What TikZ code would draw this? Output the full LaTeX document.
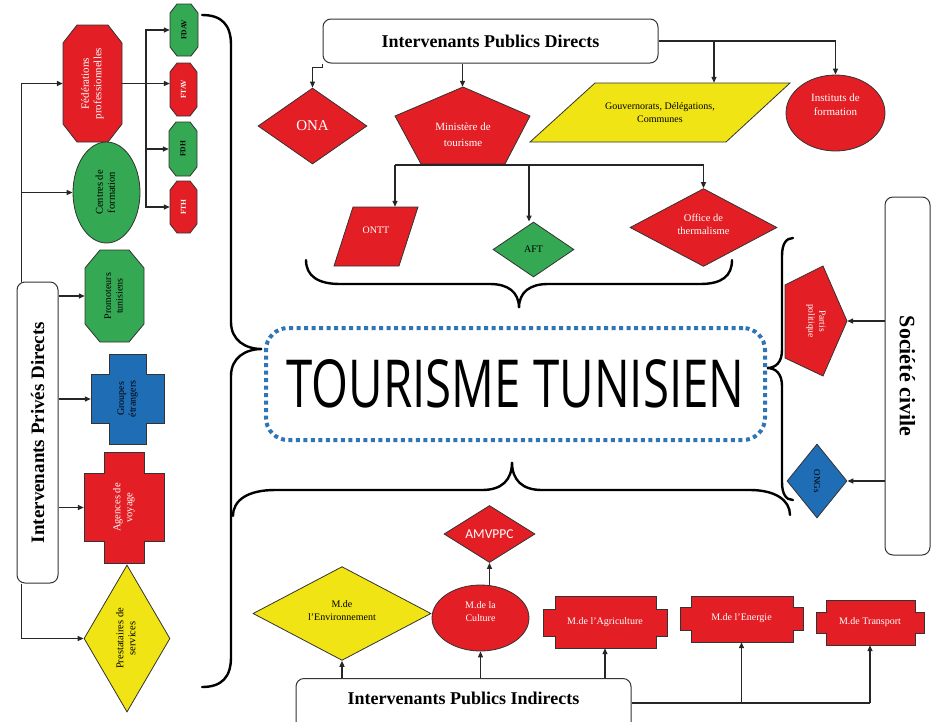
\documentclass[tikz,border=0pt]{standalone}
\usepackage{fontspec}
\usepackage{graphicx}
\setmainfont{Liberation Serif}
\newfontfamily\titlefont{Open Sans}
\newfontfamily\amvfont{Carlito}
\usetikzlibrary{shapes.geometric,arrows.meta,calc}
\definecolor{cred}{HTML}{E31E24}
\definecolor{cgreen}{HTML}{34A853}
\definecolor{cyellow}{HTML}{F0E414}
\definecolor{cblue}{HTML}{1F6DB4}
\definecolor{ctitle}{HTML}{2E75B6}
\definecolor{cedge}{HTML}{333333}
\newcommand{\fsz}[2]{\fontsize{#1}{#2}\selectfont}
\newcommand{\myrot}[2]{\rotatebox{#1}{\begin{tabular}{@{}c@{}}#2\end{tabular}}}
\newcommand{\liftup}[2]{\raisebox{#1}[\height][\depth]{\begin{tabular}{@{}c@{}}#2\end{tabular}}}
\begin{document}
\begin{tikzpicture}[x=1pt,y=-1pt,
  edge/.style={draw=cedge, line width=0.8pt},
  sz/.style 2 args={minimum width=#1pt, minimum height=#2pt},
  txt/.style={inner sep=0pt, align=center},
  rbox/.style={draw=cedge, line width=1pt, rounded corners=8pt, fill=white, inner sep=0pt},
  conn/.style={draw=black!85, line width=1.3pt},
  arr/.style={conn, -{Triangle[length=6pt,width=5pt]}},
  brace/.style={draw=black, line width=2.4pt, line cap=round},
  dia/.style={diamond, edge, inner sep=0pt, align=center},
  ell/.style={ellipse, edge, inner sep=0pt, align=center},
]
\useasboundingbox (0,0) rectangle (932,721);

% ---------- left column ----------
\draw[edge, fill=cred] (77,25)--(108,25)--(122,43)--(122,124)--(108,142)--(77,142)--(63,124)--(63,43)--cycle;
\node[txt, sz={59}{117}, text=white, font=\fsz{11}{12.5}] (fed) at (92.5,83.5) {\myrot{90}{Fédérations\\professionnelles}};
\node[ell, fill=cgreen, sz={67}{101}, font=\fsz{10.5}{12}] (cen) at (106.5,192.5) {\myrot{90}{Centres de\\formation}};

\draw[edge, fill=cgreen] (177,4)--(191,4)--(198,13)--(198,47)--(191,56)--(177,56)--(170,47)--(170,13)--cycle;
\node[txt, sz={28}{52}, font=\fsz{7.5}{8}\bfseries] (fdav) at (184,30) {\rotatebox{90}{FDAV}};
\draw[edge, fill=cred] (177,63)--(190,63)--(197,72)--(197,107)--(190,116)--(177,116)--(170,107)--(170,72)--cycle;
\node[txt, sz={27}{53}, text=white, font=\fsz{7.5}{8}\bfseries] (ftav) at (183.5,89.5) {\rotatebox{90}{FTAV}};
\draw[edge, fill=cgreen] (176,122)--(190,122)--(197,131)--(197,167)--(190,176)--(176,176)--(169,167)--(169,131)--cycle;
\node[txt, sz={28}{54}, font=\fsz{7.5}{8}\bfseries] (fdh) at (183,149) {\rotatebox{90}{FDH}};
\draw[edge, fill=cred] (177,181)--(190,181)--(197,190)--(197,224)--(190,233)--(177,233)--(170,224)--(170,190)--cycle;
\node[txt, sz={27}{52}, text=white, font=\fsz{7.5}{8}\bfseries] (fth) at (183.5,207) {\rotatebox{90}{FTH}};

\draw[edge, fill=cgreen] (100,250)--(129,250)--(144,268)--(144,324)--(129,342)--(100,342)--(85,324)--(85,268)--cycle;
\node[txt, sz={59}{92}, font=\fsz{10}{11.5}] (pro) at (114.5,296) {\myrot{90}{Promoteurs\\tunisiens}};

\draw[edge, fill=cblue] (109,354)--(146,354)--(146,374)--(164,374)--(164,423)--(146,423)--(146,444)--(109,444)--(109,423)--(91,423)--(91,374)--(109,374)--cycle;
\node[txt, sz={73}{90}, font=\fsz{10}{11.5}] (gro) at (127.5,399) {\myrot{90}{Groupes\\étrangers}};

\draw[edge, fill=cred] (104,452)--(144,452)--(144,473)--(164,473)--(164,541)--(144,541)--(144,563)--(104,563)--(104,541)--(84,541)--(84,473)--(104,473)--cycle;
\node[txt, sz={80}{111}, text=white, font=\fsz{10.5}{12}] (age) at (124,507.5) {\myrot{90}{Agences de\\voyage}};

\node[dia, fill=cyellow, sz={86}{147}, font=\fsz{10.5}{12}] (pre) at (127,638.5) {\myrot{90}{Prestataires de\\services}};

\node[rbox, sz={41}{301}, font=\fsz{19}{22}\bfseries] (ipd) at (37.5,432.5) {\rotatebox{90}{Intervenants Privés Directs}};

\draw[arr] ($(ipd.north west)+(5,0)$) |- (fed.west);
\draw[arr] ($(ipd.north west)+(5,0)$) |- (cen.west);
\draw[arr] (ipd.east |- pro.west) -- (pro.west);
\draw[arr] (ipd.east |- gro.west) -- (gro.west);
\draw[arr] (ipd.east |- age.west) -- (age.west);
\draw[arr] ($(ipd.south west)+(5,0)$) |- (pre.west);

\coordinate (fb) at (146,83.5);
\draw[arr] (fed.east) -- (fed.east -| ftav.west);
\draw[arr] (fb) |- (fdav.west);
\draw[arr] (fb) |- (fdh.west);
\draw[arr] (fb) |- (fth.west);

% left brace
\draw[brace] (202,15) .. controls (222,15) and (231,25) .. (231,45) -- (231,322)
  .. controls (231,340) and (245,349) .. (262,349)
  .. controls (245,349) and (231,358) .. (231,376) -- (231,657)
  .. controls (231,677) and (222,687) .. (202,687);

% ---------- top ----------
\node[rbox, sz={335}{44}, font=\fsz{18}{20}\bfseries] (pd) at (490.5,41) {Intervenants Publics Directs};
\node[dia, fill=cred, sz={109}{76}, text=white, font=\fsz{15}{17}] (ona) at (312.5,126) {ONA};
\draw[arr] (pd.south west) -- ++(0,4) -| (ona.north);

\draw[edge, fill=cred] (463,87)--(530,116)--(505,164)--(421,164)--(395,116)--cycle;
\node[txt, sz={135}{77}] (min) at (462.5,125.5) {};
\node[txt, text=white, font=\fsz{11}{16}] (mint) at (463,135) {Ministère de\\tourisme};
\draw[arr] (pd.south -| min.north) -- (min.north);

\draw[edge, fill=cyellow] (595,83)--(790,83)--(726,142)--(530,142)--cycle;
\node[txt, sz={260}{59}, font=\fsz{10}{13}] (gov) at (660,112.5) {Gouvernorats, Délégations,\\Communes};
\node[ell, fill=cred, sz={99}{76}, text=white, font=\fsz{11}{14}] (inst) at (835.5,113) {\liftup{7pt}{Instituts de\\formation}};
\draw[arr] (pd.east) -| (inst.north);
\coordinate (gk) at (714,41);
\draw[arr] (gk) -- (gk |- gov.north);

\draw[edge, fill=cred] (353,207)--(418,207)--(399,266)--(334,266)--cycle;
\node[txt, sz={84}{59}, text=white, font=\fsz{10}{12}] (ontt) at (376,236.5) {\liftup{5pt}{ONTT}};
\node[dia, fill=cgreen, sz={81}{55}, font=\fsz{10}{12}] (aft) at (533.5,249.5) {AFT};
\node[dia, fill=cred, sz={147}{73}, text=white, font=\fsz{10.5}{13}] (off) at (703.5,227.5) {\liftup{2pt}{Office de\\thermalisme}};
\coordinate (m1) at (395,165);
\coordinate (m2) at (529,165);
\coordinate (m3) at (703.5,165);
\draw[conn] (m1) -- (m3);
\draw[arr] (m1) -- (m1 |- ontt.north);
\draw[arr] (m2) -- (m2 |- aft.north);
\draw[arr] (m3) -- (off.north);

% top brace
\draw[brace] (306,260) .. controls (306,276) and (318,284) .. (340,284) -- (490,284)
  .. controls (508,284) and (519,292) .. (519,308)
  .. controls (519,292) and (530,284) .. (548,284) -- (700,284)
  .. controls (722,284) and (732,276) .. (732,260);

% ---------- title ----------
\node[draw=ctitle, line width=4pt, dash pattern=on 4pt off 3.5pt, rounded corners=22pt, sz={499}{112}, inner sep=0pt] (tt) at (515.5,384) {\resizebox{458pt}{48pt}{\titlefont TOURISME TUNISIEN}};

% ---------- right ----------
\node[rbox, sz={45}{358}, font=\fsz{22}{24}\bfseries] (sc) at (907.5,376) {\rotatebox{-90}{Société civile}};
\draw[edge, fill=cred] (785,285)--(823,266)--(847,321)--(823,376)--(785,358)--cycle;
\node[txt, sz={62}{110}, text=white, font=\fsz{9.5}{11}] (par) at (816,321) {\myrot{-90}{Partis\\politique}};
\node[dia, fill=cblue, sz={60}{74}, font=\fsz{9}{10}] (ong) at (817,481) {\rotatebox{-90}{ONGs}};
\draw[arr] (sc.west |- par.east) -- (par.east);
\draw[arr] (sc.west |- ong.east) -- (ong.east);

\draw[brace] (793,238) .. controls (786,238) and (782,244) .. (782,256) -- (782,350)
  .. controls (782,362) and (776,368) .. (767,368)
  .. controls (776,368) and (782,374) .. (782,386) -- (782,482)
  .. controls (782,494) and (786,500) .. (793,500);

% bottom brace
\draw[brace] (233,516) .. controls (233,500) and (248,490) .. (275,490) -- (482,490)
  .. controls (502,490) and (512,480) .. (512,462)
  .. controls (512,480) and (522,490) .. (542,490) -- (750,490)
  .. controls (775,490) and (790,500) .. (790,515);

% ---------- bottom ----------
\node[rbox, anchor=north, sz={335}{70}] (pi) at (463.5,678) {};
\node[txt, font=\fsz{18}{20}\bfseries] (pit) at (463.5,698) {Intervenants Publics Indirects};
\node[dia, fill=cyellow, sz={178}{79}, font=\fsz{10}{13}] (env) at (342,613.5) {\liftup{2pt}{M.de\\l’Environnement}};
\node[ell, fill=cred, sz={97}{66}, text=white, font=\fsz{10}{13}] (cul) at (480.5,618) {\liftup{6pt}{M.de la\\Culture}};
\node[dia, fill=cred, sz={91}{54}, text=white, font=\amvfont\fsz{13.5}{15}] (amv) at (489.5,534) {AMVPPC};

\draw[edge, fill=cred] (555,596)--(656,596)--(656,609)--(667,609)--(667,636)--(656,636)--(656,648)--(555,648)--(555,636)--(543,636)--(543,609)--(555,609)--cycle;
\node[txt, sz={124}{52}, text=white, font=\fsz{10}{12}] (agr) at (605,622) {M.de l’Agriculture};
\draw[edge, fill=cred] (691,596)--(793,596)--(793,607)--(803,607)--(803,630)--(793,630)--(793,642)--(691,642)--(691,630)--(680,630)--(680,607)--(691,607)--cycle;
\node[txt, sz={123}{46}, text=white, font=\fsz{10}{12}] (ene) at (741.5,619) {\liftup{1pt}{M.de l’Energie}};
\draw[edge, fill=cred] (826,600)--(915,600)--(915,612)--(924,612)--(924,633)--(915,633)--(915,645)--(826,645)--(826,633)--(816,633)--(816,612)--(826,612)--cycle;
\node[txt, sz={108}{45}, text=white, font=\fsz{10}{12}] (tra) at (870,622.5) {M.de Transport};

\draw[arr] (pi.north -| env.south) -- (env.south);
\draw[arr] (pi.north -| cul.south) -- (cul.south);
\draw[arr] (amv.south |- cul.north) -- (amv.south);
\draw[arr] (pi.north -| agr.south) -- (agr.south);
\coordinate (pie) at ($(pi.north east)+(0,25)$);
\draw[conn] (pie) -- (pie -| tra.south);
\draw[arr] (pie -| ene.south) -- (ene.south);
\draw[arr] (pie -| tra.south) -- (tra.south);
\end{tikzpicture}
\end{document}
